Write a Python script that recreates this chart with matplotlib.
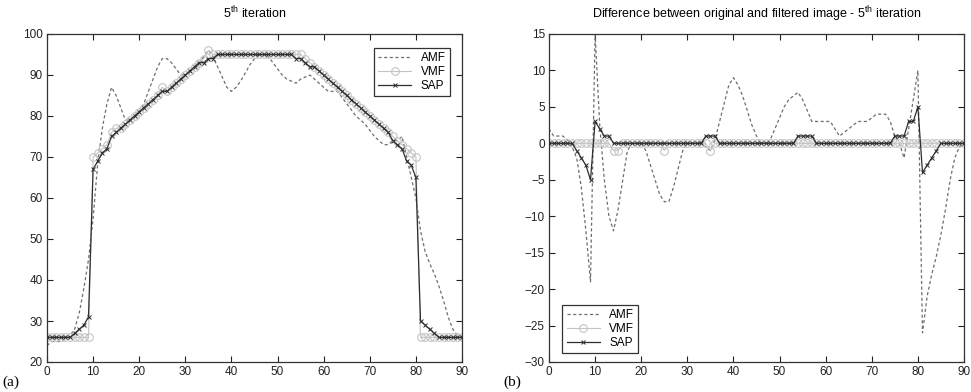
import numpy as np
import matplotlib
matplotlib.use("Agg")
import matplotlib.pyplot as plt

plt.rcParams['font.family'] = ['Liberation Sans', 'DejaVu Sans']
plt.rcParams['mathtext.default'] = 'regular'
plt.rcParams['font.size'] = 8.5

# pixel position along the scan line
x = np.arange(91)

# original (noise-free) profile
original = np.array(
    [26] * 10 +
    [70, 71, 72, 73, 75, 76, 77, 78, 79, 80, 81, 82, 83, 84, 85, 86, 86, 87, 88, 89,
     90, 91, 92, 93, 94] +
    [95] * 21 +
    [94, 93, 92, 91, 90, 89, 88, 87, 86, 85, 84, 83, 82, 81, 80, 79, 78, 77, 76, 75,
     74, 73, 72, 71, 70] +
    [26] * 10, dtype=float)

# difference original - filtered, 5th iteration
diff_amf = np.array([
    2, 1, 1, 1, 0.5, -0.5, -2, -6, -12, -19,
    15, 2.5, -5, -10, -12, -9, -5, -1, 0, 0,
    0, -1, -3, -5, -7, -8, -8, -6, -3.5, -1,
    0, 0, 0, 0, -0.5, -1, 0.5, 3, 5.5, 8,
    9, 8, 6.5, 4.5, 2.5, 1, 0, 0, 0.5, 2,
    3.5, 5, 6, 6.5, 7, 6, 4.5, 3, 3, 3,
    3, 3, 2, 1, 1.5, 2, 2.5, 3, 3, 3,
    3.5, 4, 4, 4, 3, 1, 0, -2, 2, 6,
    10, -26, -21, -18, -15.5, -12.5, -9, -5, -2, -0.5,
    0])

diff_vmf = np.zeros(91)
diff_vmf[[14, 15, 25, 35]] = -1

diff_sap = np.zeros(91)
diff_sap[6:14] = [-1, -2, -3, -5, 3, 2, 1, 1]
diff_sap[34:37] = 1
diff_sap[54:58] = 1
diff_sap[75:85] = [1, 1, 1, 3, 3, 5, -4, -3, -2, -1]

amf = original - diff_amf
vmf = original - diff_vmf
sap = original - diff_sap

fig = plt.figure(figsize=(9.71, 3.92), dpi=100)
ax1 = fig.add_axes([47 / 971, 30 / 392, 415 / 971, 328 / 392])
ax2 = fig.add_axes([549 / 971, 30 / 392, 415 / 971, 328 / 392])

amf_style = dict(color='#6e6e6e', linestyle=(0, (2.5, 2)), linewidth=0.9)
vmf_style = dict(color='#c4c4c4', linewidth=0.8, marker='o', markersize=5.5,
                 markerfacecolor='none', markeredgecolor='#c4c4c4', markeredgewidth=0.8)
sap_style = dict(color='#2e2e2e', linewidth=0.9, marker='x', markersize=3.5,
                 markeredgewidth=0.7)

for ax, sets in ((ax1, (amf, vmf, sap)), (ax2, (diff_amf, diff_vmf, diff_sap))):
    ax.plot(x, sets[0], label='AMF', **amf_style)
    ax.plot(x, sets[1], label='VMF', **vmf_style)
    ax.plot(x, sets[2], label='SAP', **sap_style)
    ax.set_xlim(0, 90)
    ax.set_xticks(range(0, 91, 10))
    ax.tick_params(direction='in', top=True, right=True, length=4, width=0.8,
                   labelsize=8.5, colors='#222222', pad=3)
    for s in ax.spines.values():
        s.set_color('#333333')
        s.set_linewidth(0.9)

ax1.set_ylim(20, 100)
ax1.set_yticks(range(20, 101, 10))
ax1.set_title('5$^{th}$ iteration', fontsize=9, pad=11)

ax2.set_ylim(-30, 15)
ax2.set_yticks(range(-30, 16, 5))
ax2.set_title('Difference between original and filtered image - 5$^{th}$ iteration',
              fontsize=9, pad=11)

leg_kw = dict(fontsize=8.5, fancybox=False, framealpha=1, edgecolor='#333333',
              handlelength=2.8, borderpad=0.35, labelspacing=0.15, handletextpad=0.8)
l1 = ax1.legend(loc='upper right', bbox_to_anchor=(0.985, 0.975), **leg_kw)
l2 = ax2.legend(loc='lower left', bbox_to_anchor=(0.018, 0.01), **leg_kw)
for leg in (l1, l2):
    leg.get_frame().set_linewidth(0.9)

fig.text(2 / 971, 1 - 382 / 392, '(a)', family='Liberation Serif', fontsize=11,
         va='center', ha='left')
fig.text(503 / 971, 1 - 382 / 392, '(b)', family='Liberation Serif', fontsize=11,
         va='center', ha='left')

fig.savefig('out.png', dpi=100, facecolor='white')
